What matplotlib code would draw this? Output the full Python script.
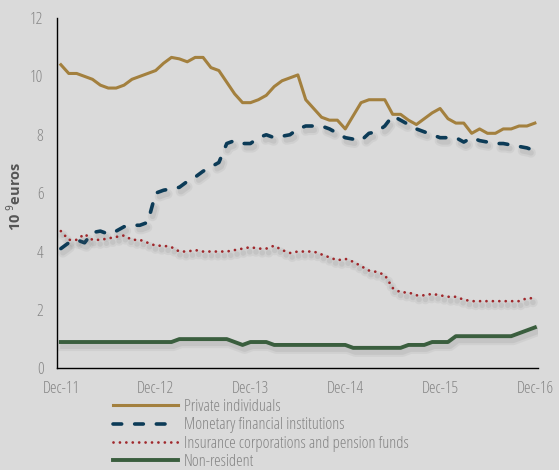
import matplotlib
matplotlib.use("Agg")
import matplotlib.pyplot as plt
import matplotlib.patheffects as pe
from matplotlib.lines import Line2D
import numpy as np

# monthly series, Dec-11 .. Dec-16 (10^9 euros)
private = [10.4, 10.1, 10.1, 10.0, 9.9, 9.7, 9.6, 9.6, 9.7, 9.9, 10.0, 10.1,
           10.2, 10.45, 10.65, 10.6, 10.5, 10.65, 10.65, 10.3, 10.2, 9.8, 9.4, 9.1,
           9.1, 9.2, 9.35, 9.65, 9.85, 9.95, 10.05, 9.2, 8.9, 8.6, 8.5, 8.5,
           8.2, 8.65, 9.1, 9.2, 9.2, 9.2, 8.7, 8.7, 8.5, 8.35, 8.55, 8.75,
           8.9, 8.55, 8.4, 8.4, 8.05, 8.2, 8.05, 8.05, 8.2, 8.2, 8.3, 8.3, 8.4]
mfi = [4.1, 4.3, 4.4, 4.3, 4.65, 4.7, 4.6, 4.7, 4.85, 4.9, 4.9, 5.0,
       6.0, 6.1, 6.15, 6.2, 6.4, 6.55, 6.75, 6.9, 7.05, 7.7, 7.8, 7.7,
       7.7, 7.9, 8.0, 7.9, 7.95, 8.0, 8.2, 8.3, 8.3, 8.3, 8.2, 8.05,
       7.9, 7.85, 7.8, 8.05, 8.1, 8.3, 8.65, 8.5, 8.35, 8.2, 8.1, 8.0,
       7.9, 7.9, 7.9, 7.75, 7.9, 7.8, 7.75, 7.7, 7.7, 7.65, 7.6, 7.55, 7.45]
insurance = [4.7, 4.4, 4.4, 4.6, 4.4, 4.4, 4.45, 4.5, 4.55, 4.4, 4.4, 4.3,
             4.2, 4.2, 4.15, 4.0, 4.0, 4.05, 4.0, 4.0, 4.0, 4.0, 4.05, 4.1,
             4.15, 4.1, 4.1, 4.2, 4.05, 3.95, 4.0, 4.0, 4.0, 3.9, 3.8, 3.7,
             3.75, 3.65, 3.5, 3.35, 3.3, 3.2, 2.75, 2.6, 2.6, 2.5, 2.5, 2.55,
             2.5, 2.45, 2.45, 2.35, 2.3, 2.3, 2.3, 2.3, 2.3, 2.3, 2.3, 2.4, 2.4]
nonres = [0.9] * 15 + [1.0] * 7 + [0.9, 0.8] + [0.9] * 3 + [0.8] * 10 + [0.7] * 7 \
         + [0.8] * 3 + [0.9] * 3 + [1.1] * 8 + [1.2, 1.3, 1.4]

labels = ["Private individuals", "Monetary financial institutions",
          "Insurance corporations and pension funds", "Non-resident"]
tick_labels = ["Dec-11", "Dec-12", "Dec-13", "Dec-14", "Dec-15", "Dec-16"]

bg = "#dadada"
txt = "#858585"
plt.rcParams["font.family"] = ["Open Sans", "DejaVu Sans"]
plt.rcParams["font.weight"] = "light"
plt.rcParams["font.stretch"] = "condensed"

fig = plt.figure(figsize=(5.59, 4.70), dpi=100, facecolor=bg)
ax = fig.add_axes([0.1025, 0.2164, 0.86, 0.7453], facecolor=bg)

x = np.arange(len(private))
shadow = [pe.SimpleLineShadow(offset=(1.5, -3.0), shadow_color="#666666", alpha=0.08, linewidth=7),
          pe.SimpleLineShadow(offset=(1.5, -3.0), shadow_color="#666666", alpha=0.11, linewidth=4),
          pe.Normal()]

styles = [
    dict(color="#a3803e", lw=2.2),
    dict(color="#0c3b57", lw=2.6, ls=(0, (2.4, 3.6)), dash_capstyle="round"),
    dict(color="#a0282c", lw=2.0, ls=(0, (0.01, 2.3)), dash_capstyle="round"),
    dict(color="#3a5e3e", lw=2.8),
]
series = [private, mfi, insurance, nonres]

for i, (vals, st) in enumerate(zip(series, styles)):
    effects = None if i == 0 else shadow
    ax.plot(x, vals, path_effects=effects, **st)

ax.set_xlim(-0.45, 60.4)
ax.set_ylim(0, 12)
ax.set_yticks(np.arange(0, 13, 2))
ax.set_xticks(np.arange(0, 61, 12))
ax.set_xticklabels(tick_labels)
ax.tick_params(length=0, labelsize=12, labelcolor=txt)
ax.tick_params(axis="y", pad=10)
ax.tick_params(axis="x", pad=9)
for s in ["top", "right"]:
    ax.spines[s].set_visible(False)
for s in ["left", "bottom"]:
    ax.spines[s].set_linewidth(1.0)
    ax.spines[s].set_color("black")

ax.set_ylabel(r"10 $^{9}$euros", fontsize=10.5, fontweight="bold", color="#555555")
ax.yaxis.set_label_coords(-0.07, 0.49)

handles = [Line2D([], [], **st) for st in styles]
fig.legend(handles, labels, loc="upper left", bbox_to_anchor=(113 / 559, 1 - 399 / 470),
           frameon=False, fontsize=12, labelcolor=txt, handlelength=3.9,
           handletextpad=0.36, labelspacing=0.14, borderpad=0, borderaxespad=0)

fig.savefig("out.png", dpi=100, facecolor=bg)
